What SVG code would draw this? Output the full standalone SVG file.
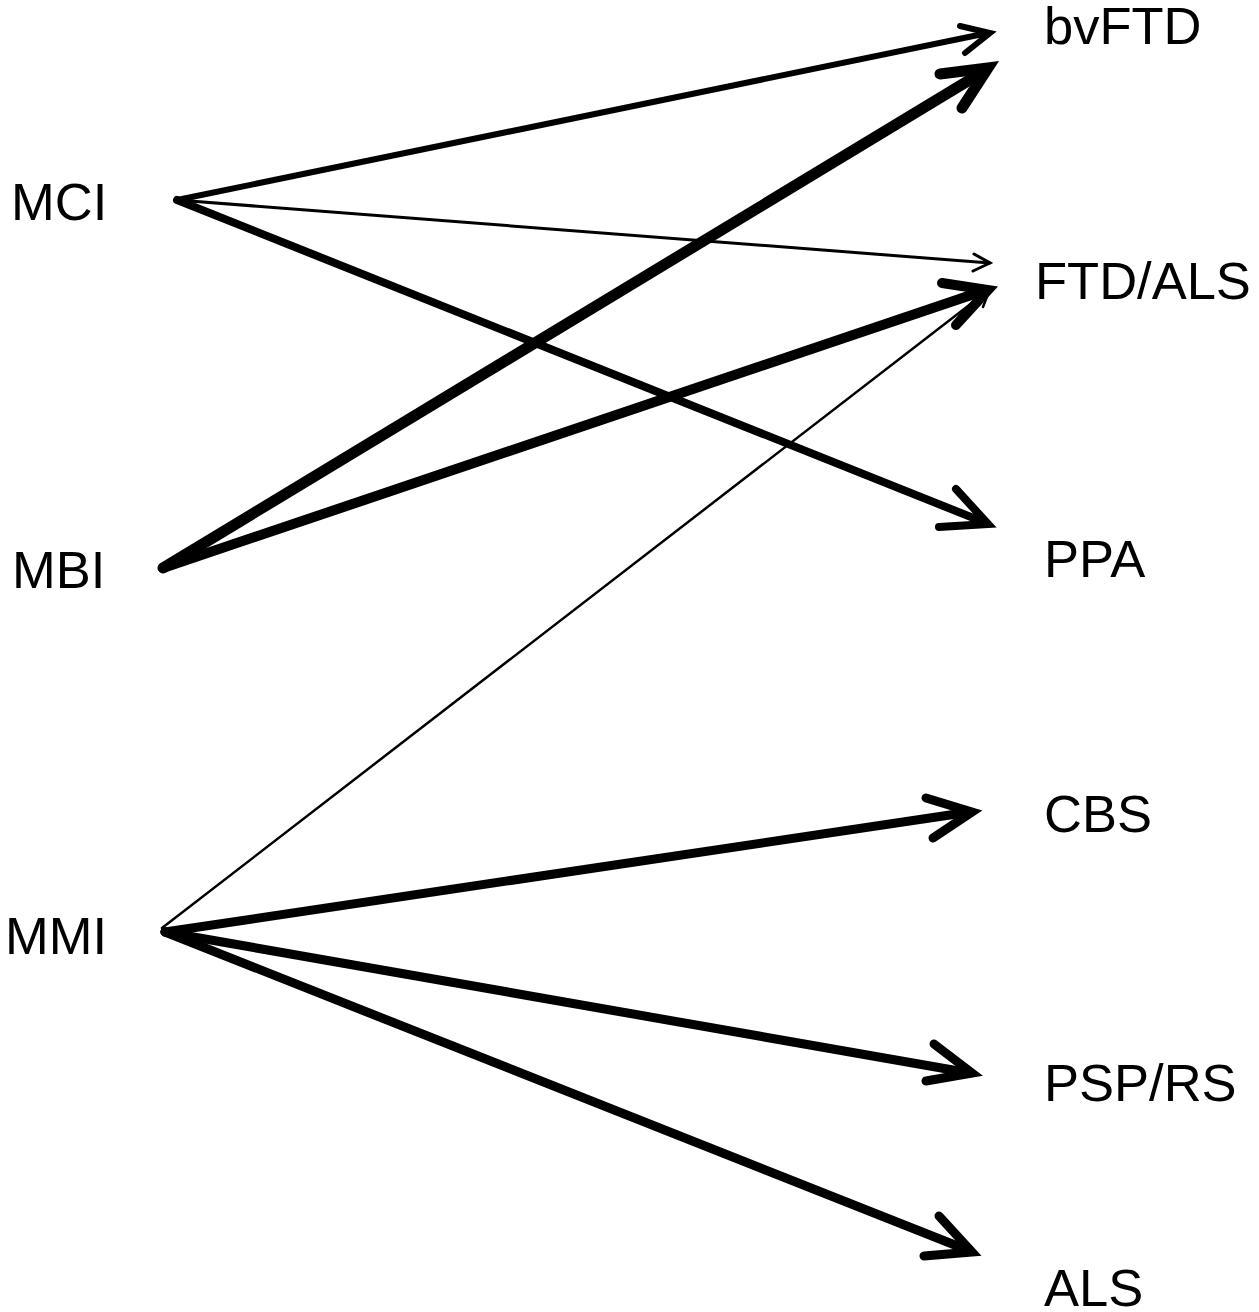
<svg xmlns="http://www.w3.org/2000/svg" width="1259" height="1312" viewBox="0 0 1259 1312">
<style>
text{font-family:"Liberation Sans",Arial,sans-serif;font-size:52.5px;fill:#000}
.c line,.c polyline{stroke:#000;fill:none;stroke-linecap:round;stroke-linejoin:miter;stroke-miterlimit:10}
</style>
<rect width="1259" height="1312" fill="#fff"/>
<g id="n-mci"><text x="11" y="220">MCI</text></g>
<g id="n-mbi"><text x="12" y="588">MBI</text></g>
<g id="n-mmi"><text x="5" y="954">MMI</text></g>
<g id="n-bvftd"><text x="1044" y="44">bvFTD</text></g>
<g id="n-ftdals"><text x="1035" y="299">FTD/ALS</text></g>
<g id="n-ppa"><text x="1044" y="577">PPA</text></g>
<g id="n-cbs"><text x="1044" y="832">CBS</text></g>
<g id="n-psprs"><text x="1044" y="1101">PSP/RS</text></g>
<g id="n-als"><text x="1044" y="1306">ALS</text></g>
<g class="c" id="connectors">
  <line x1="177" y1="200" x2="988" y2="33" stroke-width="6"/>
  <polyline points="960,26 990,33 965,53" stroke-width="6"/>
  <line x1="163" y1="568" x2="986" y2="70" stroke-width="11"/>
  <polyline points="940,74 988,68 962,108" stroke-width="11"/>
  <line x1="177" y1="200" x2="990" y2="263" stroke-width="3"/>
  <polyline points="974,254 990,263 973,271" stroke-width="3"/>
  <line x1="163" y1="568" x2="986" y2="290" stroke-width="10"/>
  <polyline points="942,283 988,290 956,325" stroke-width="10"/>
  <line x1="162" y1="928" x2="990" y2="289" stroke-width="2.5"/>
  <polyline points="971,293 990,289 983,307" stroke-width="2.5"/>
  <line x1="177" y1="200" x2="986" y2="523" stroke-width="8"/>
  <polyline points="956,489 988,524 939,527" stroke-width="8"/>
  <line x1="165" y1="932" x2="970" y2="812" stroke-width="9"/>
  <polyline points="926,798 972,812 933,838" stroke-width="9"/>
  <line x1="165" y1="932" x2="970" y2="1073" stroke-width="9"/>
  <polyline points="934,1044 972,1073 926,1081" stroke-width="9"/>
  <line x1="165" y1="932" x2="970" y2="1251" stroke-width="9"/>
  <polyline points="939,1216 972,1252 924,1256" stroke-width="9"/>
</g>
</svg>
